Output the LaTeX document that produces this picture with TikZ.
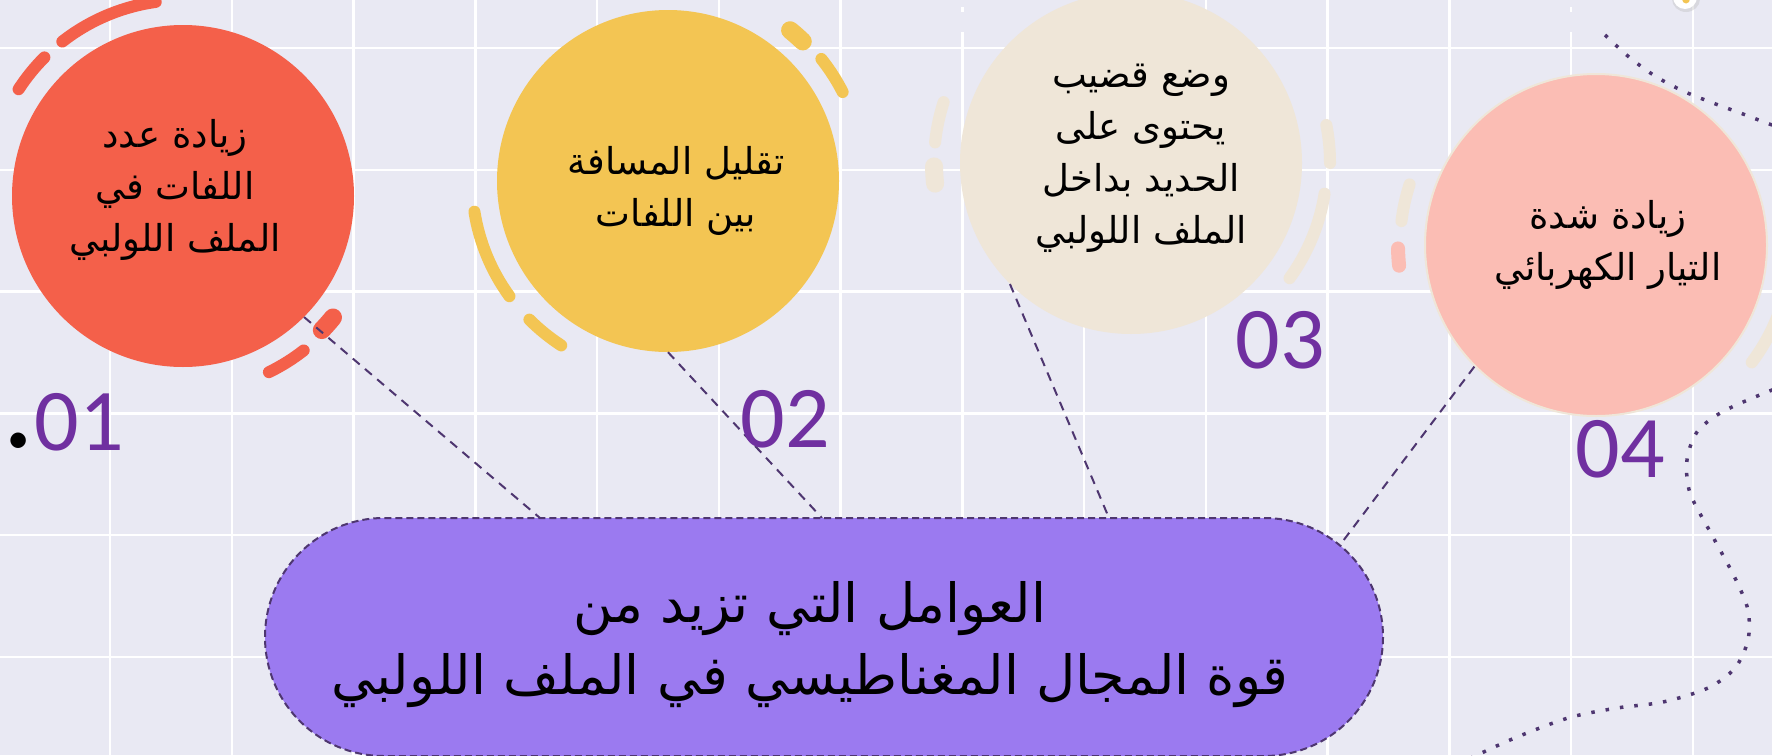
\documentclass[tikz,border=0pt]{standalone}
\usepackage{fontspec}
\usetikzlibrary{shapes.misc}
\TeXXeTstate=1
\setmainfont{Carlito}
\newfontfamily\arabicfont[Script=Arabic]{DejaVu Sans}
\definecolor{bg}{HTML}{E9E9F3}
\definecolor{cred}{HTML}{F4604A}
\definecolor{cyellow}{HTML}{F3C553}
\definecolor{cbeige}{HTML}{EFE6D8}
\definecolor{cpink}{HTML}{FBBDB4}
\definecolor{cbox}{HTML}{9B7AF0}
\definecolor{cnum}{HTML}{7030A0}
\definecolor{cline}{HTML}{4E3670}
\tikzset{
  circ/.style={circle, minimum size=342pt, inner sep=0pt},
  deco/.style={line width=12pt, line cap=round},
  blob/.style={line width=18pt, line cap=round},
  gridline/.style={white, line width=2.5pt},
  link/.style={cline, line width=2pt, dash pattern=on 9pt off 7pt},
  dotline/.style={cline, line width=3.5pt, dash pattern=on 3.5pt off 11pt},
  ctext/.style={align=center, font=\arabicfont\fontsize{37}{52}\selectfont, inner sep=0pt},
  num/.style={cnum, font=\fontsize{88}{88}\selectfont, inner sep=0pt, anchor=base},
}
\begin{document}
\begin{tikzpicture}[x=1pt,y=-1pt]
\useasboundingbox (0,0) rectangle (1772,755);
\clip (0,0) rectangle (1772,755);
\fill[bg] (0,0) rectangle (1772,755);
% grid
\foreach \i in {0,...,13} {
  \pgfmathsetmacro{\gx}{110+121.75*\i}
  \ifnum\i=7 \draw[gridline] (\gx,32) -- (\gx,755); \draw[gridline] (\gx,7) -- (\gx,12);
  \else\ifnum\i=12 \draw[gridline] (\gx,32) -- (\gx,755); \draw[gridline] (\gx,7) -- (\gx,12);
  \else \draw[gridline] (\gx,0) -- (\gx,755); \fi\fi
}
\foreach \j in {0,...,5} {
  \pgfmathsetmacro{\gy}{48+121.8*\j}
  \draw[gridline] (0,\gy) -- (1772,\gy);
}
% dotted curves
\draw[dotline] plot[smooth] coordinates {(1605,35) (1629,57) (1655,76) (1683,91) (1713,103) (1743,114) (1772,125) (1800,134)};
\draw[dotline] plot[smooth] coordinates {(1800,380) (1767,392) (1722,412) (1697,432) (1687,460) (1690,493) (1713,537) (1735,578) (1748,610) (1748,640) (1735,668) (1708,688) (1663,702) (1617,708) (1568,718) (1510,740) (1450,768)};
% top-right icon remnant
\fill[black!25, opacity=0.4] (1686,-1) ellipse (14pt and 13pt);
\fill[white] (1685,-3) circle (12pt);
\fill[cyellow] (1686,-1) ellipse (4pt and 4.5pt);
% decorative arcs: red
\draw[deco, cred] (183,196) ++(-98:196) arc[start angle=-98, end angle=-128, radius=196];
\draw[deco, cred] (183,196) ++(-135:196) arc[start angle=-135, end angle=-147, radius=196];
\draw[deco, cred] (183,196) ++(64:196) arc[start angle=64, end angle=52, radius=196];
\draw[blob, cred] (183,196) ++(44:193) arc[start angle=44, end angle=39, radius=193];
% yellow
\draw[deco, cyellow] (668,181) ++(-189:196) arc[start angle=-189, end angle=-216, radius=196];
\draw[deco, cyellow] (668,181) ++(-225:196) arc[start angle=-225, end angle=-237, radius=196];
\draw[deco, cyellow] (668,181) ++(-27:196) arc[start angle=-27, end angle=-38.5, radius=196];
\draw[blob, cyellow] (668,181) ++(-46:194) arc[start angle=-46, end angle=-51, radius=194];
% beige
\draw[deco, cbeige] (1131,163) ++(-162:197) arc[start angle=-162, end angle=-174, radius=197];
\draw[blob, cbeige] (1131,163) ++(-181:197) arc[start angle=-181, end angle=-186, radius=197];
\draw[deco, cbeige] (1131,163) ++(0:199) arc[start angle=0, end angle=-11, radius=199];
\draw[deco, cbeige] (1131,163) ++(9:196) arc[start angle=9, end angle=36, radius=196];
% pink circle decorations
\draw[deco, cbeige] (1596,245) ++(-162:196) arc[start angle=-162, end angle=-173, radius=196];
\draw[blob, cpink, line width=14pt] (1596,245) ++(-181:198) arc[start angle=-181, end angle=-186, radius=198];
\draw[deco, cbeige] (1596,245) ++(0:198) arc[start angle=0, end angle=-11, radius=198];
\draw[deco, cbeige] (1596,245) ++(9:195) arc[start angle=9, end angle=37, radius=195];
% circles
\node[circ, fill=cred] (c1) at (183,196) {};
\node[circ, fill=cyellow] (c2) at (668,181) {};
\node[circ, fill=cbeige] (c3) at (1131,163) {};
\node[circ, fill=cpink, draw=cbeige, line width=2pt] (c4) at (1596,245) {};
% connector ends on the box
\coordinate (e1) at (540,518);
\coordinate (e2) at (822,518);
\coordinate (e3) at (1109,518);
\coordinate (e4) at (1340,545);
\draw[link] (c1.-45) -- (e1);
\draw[link] (c2.-90) -- (e2);
\draw[link] (c3.-135) -- (e3);
\draw[link] (c4.-135) -- (e4);
% central box
\node[rounded rectangle, fill=cbox, draw=cline, line width=2pt, dash pattern=on 7pt off 4pt,
      minimum width=1118pt, minimum height=238pt, inner sep=0pt] (main) at (824,637) {};
\node[align=center, inner sep=0pt, font=\arabicfont\fontsize{54}{72}\selectfont] (mt) at (810,645)
  {\beginR العوامل التي تزيد من\endR\\\beginR قوة المجال المغناطيسي في الملف اللولبي\endR};
% circle texts
\node[ctext] (t1) at (175,190) {\beginR زيادة عدد\endR\\\beginR اللفات في\endR\\\beginR الملف اللولبي\endR};
\node[ctext] (t2) at (676,191) {\beginR تقليل المسافة\endR\\\beginR بين اللفات\endR};
\node[ctext] (t3) at (1141,158) {\beginR وضع قضيب\endR\\\beginR يحتوى على\endR\\\beginR الحديد بداخل\endR\\\beginR الملف اللولبي\endR};
\node[ctext] (t4) at (1608,245) {\beginR زيادة شدة\endR\\\beginR التيار الكهربائي\endR};
% numbers
\node[num] (n1) at (63,450) {{\color{black}\raisebox{2.5pt}{\fontsize{128}{128}\selectfont .}}01};
\node[num] (n2) at (785,447) {02};
\node[num] (n3) at (1280,368) {03};
\node[num] (n4) at (1620,477) {04};
\end{tikzpicture}
\end{document}
